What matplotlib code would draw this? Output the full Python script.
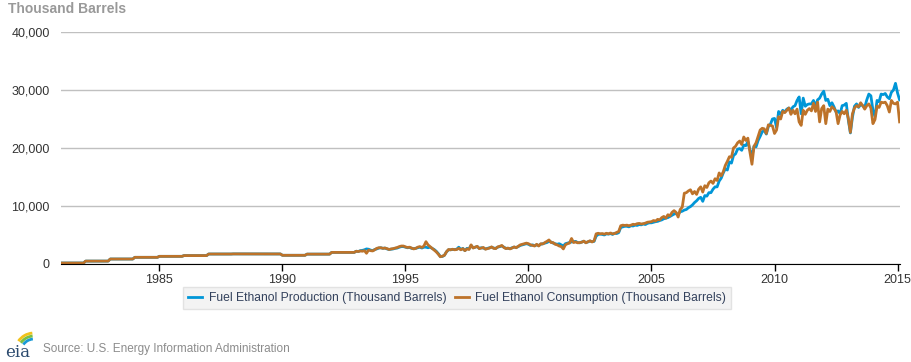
import matplotlib
matplotlib.use("Agg")
import matplotlib.pyplot as plt
from matplotlib.patches import Arc
import numpy as np

plt.rcParams['font.family'] = ['Liberation Sans', 'DejaVu Sans']

# annual levels 1981-1992 (reported flat for every month of the year)
annual_years = list(range(1981, 1993))
annual_level = [170, 500, 860, 1150, 1320, 1450, 1720, 1740, 1730, 1500, 1700, 2000]

# monthly values from Jan 1993 to Feb 2015, thousand barrels
prod_monthly = [
    2200, 2150, 2300, 2350, 2450, 2600, 2550, 2400, 2300, 2500, 2600, 2750,  # 1993
    2800, 2700, 2750, 2600, 2500, 2550, 2600, 2700, 2750, 2900, 3000, 3000,  # 1994
    2900, 2800, 2850, 2700, 2650, 2700, 2800, 2900, 2750, 2900, 2900, 2800,  # 1995
    2900, 2700, 2500, 2200, 1800, 1300, 1300, 1500, 2100, 2450, 2450, 2500,  # 1996
    2500, 2550, 2900, 2500, 2700, 2300, 2700, 2600, 3200, 2800, 2900, 3000,  # 1997
    2700, 2800, 2750, 2600, 2700, 2800, 2900, 2750, 2700, 2900, 3000, 3100,  # 1998
    2900, 2700, 2700, 2650, 2800, 2900, 2850, 3000, 3200, 3300, 3400, 3500,  # 1999
    3400, 3200, 3300, 3150, 3300, 3200, 3400, 3500, 3600, 3700, 3900, 3800,  # 2000
    3600, 3500, 3400, 3500, 3300, 3100, 3500, 3600, 3700, 3800, 3850, 3900,  # 2001
    3700, 3650, 3800, 3900, 3700, 3800, 3950, 3850, 3900, 4800, 5100, 5150,  # 2002
    5100, 5000, 5200, 5150, 5250, 5100, 5300, 5250, 5400, 6300, 6400, 6500,  # 2003
    6500, 6400, 6600, 6550, 6700, 6650, 6800, 6750, 6900, 6800, 7000, 7100,  # 2004
    7100, 7200, 7300, 7350, 7500, 7600, 7800, 7900, 8000, 8200, 8400, 8600,  # 2005
    8700, 8600, 9000, 9100, 9300, 9400, 9700, 9900, 10200, 10600, 10900, 11300,  # 2006
    11500, 10800, 11800, 11700, 12300, 12300, 12900, 13300, 13300, 14300, 14800, 15700,  # 2007
    16400, 16200, 17600, 17400, 18700, 19000, 19800, 19900, 19600, 20500, 20400, 21100,  # 2008
    19700, 18600, 20300, 20200, 21300, 22000, 22800, 23000, 22400, 23700, 24100, 25000,  # 2009
    25100, 23500, 26300, 25800, 26500, 26200, 26700, 26900, 26500, 27100, 27300, 28200,  # 2010
    28800, 25900, 28600, 27200, 27500, 27600, 27600, 28200, 27200, 28300, 28600, 29300,  # 2011
    29800, 28200, 28400, 27300, 27800, 27100, 26200, 26400, 25900, 27300, 27400, 27700,  # 2012
    24800, 22600, 25300, 27200, 27600, 27000, 27500, 27300, 27000, 28300, 29300, 29000,  # 2013
    26500, 25400, 28200, 28000, 29300, 29200, 29400, 28800, 28500, 29600, 30000, 31150,  # 2014
    29500, 28300,  # 2015
]
cons_monthly = [
    2200, 2150, 2250, 2200, 2300, 1850, 2400, 2300, 2250, 2450, 2700, 2800,  # 1993
    2800, 2700, 2750, 2650, 2500, 2600, 2650, 2750, 2850, 3000, 3100, 3100,  # 1994
    2950, 2850, 2900, 2750, 2600, 2700, 2900, 3000, 2850, 3100, 3850, 3300,  # 1995
    3000, 2700, 2400, 2100, 1700, 1250, 1350, 1500, 2100, 2500, 2450, 2550,  # 1996
    2450, 2500, 2700, 2450, 2650, 2300, 2600, 2500, 3300, 2750, 2900, 3050,  # 1997
    2650, 2750, 2850, 2550, 2650, 2750, 2950, 2700, 2650, 2950, 3050, 3200,  # 1998
    2850, 2650, 2750, 2600, 2750, 2950, 2800, 3050, 3300, 3400, 3500, 3600,  # 1999
    3500, 3300, 3200, 3100, 3400, 3100, 3500, 3450, 3700, 3900, 4150, 3700,  # 2000
    3700, 3400, 3300, 3100, 3000, 2600, 3300, 3500, 3600, 4400, 3700, 3800,  # 2001
    3650, 3700, 3750, 3950, 3650, 3850, 4000, 3800, 4000, 5200, 5300, 5200,  # 2002
    5250, 5150, 5300, 5200, 5350, 5200, 5250, 5450, 5600, 6600, 6700, 6650,  # 2003
    6700, 6600, 6700, 6850, 6800, 6950, 7000, 6900, 6950, 7050, 7200, 7250,  # 2004
    7300, 7500, 7400, 7700, 7600, 8000, 8200, 7900, 8500, 8300, 8900, 9200,  # 2005
    8900, 8100, 9400, 9800, 12200, 12300, 12600, 12800, 12100, 12500, 12000, 12900,  # 2006
    13300, 12400, 13500, 13200, 14000, 14300, 13900, 14700, 14400, 15700, 15200, 15900,  # 2007
    17000, 17700, 18500, 18400, 20000, 20300, 20900, 21200, 20600, 21900, 21300, 21700,  # 2008
    19300, 17200, 20300, 20900, 22000, 23100, 23400, 23300, 22500, 24000, 23900, 23800,  # 2009
    22500, 23100, 25400, 25000, 26300, 26100, 26500, 26900, 25800, 26500, 25900, 26700,  # 2010
    24500, 23900, 26500, 25800, 26500, 26800, 26400, 27700, 26300, 27900, 24500, 26800,  # 2011
    27300, 24200, 26700, 26300, 27100, 26800, 26300, 24200, 25700, 26300, 25900, 26500,  # 2012
    25100, 22700, 25900, 26900, 27300, 27100, 27800, 27300, 26700, 27300, 27600, 26900,  # 2013
    24200, 24900, 27200, 27000, 27900, 27800, 27900, 27300, 26200, 28200, 27700, 27600,  # 2014
    27900, 24500,  # 2015
]

series_labels = ["Fuel Ethanol Production (Thousand Barrels)",
                 "Fuel Ethanol Consumption (Thousand Barrels)"]
series_colors = ["#0096d7", "#bd732a"]
x_ticks = [1985, 1990, 1995, 2000, 2005, 2010, 2015]
y_ticks = [0, 10000, 20000, 30000, 40000]

# build monthly time axis
early = np.repeat(annual_level, 12).astype(float)
early_t = np.arange(len(early)) / 12 + annual_years[0]
late_t = np.arange(len(prod_monthly)) / 12 + 1993
t = np.concatenate([early_t, late_t])
prod = np.concatenate([early, prod_monthly])
cons = np.concatenate([early, cons_monthly])

fig = plt.figure(figsize=(9.12, 3.62), dpi=100)
ax = fig.add_axes([61 / 912, 98 / 362, 839 / 912, 232 / 362])

ax.plot(t, prod, color=series_colors[0], lw=2, label=series_labels[0])
ax.plot(t, cons, color=series_colors[1], lw=2, label=series_labels[1])

ax.set_xlim(1981, 2015.1)
ax.set_ylim(0, 40000)
ax.set_xticks(x_ticks)
ax.set_yticks(y_ticks)
ax.set_yticklabels([f"{v:,}" for v in y_ticks])
ax.grid(axis='y', color='#c0c0c0', lw=1)
ax.set_axisbelow(True)
for s in ['top', 'right', 'left']:
    ax.spines[s].set_visible(False)
ax.spines['bottom'].set_color('#000000')
ax.tick_params(axis='y', length=0, pad=8, labelsize=9, labelcolor='#333333')
ax.tick_params(axis='x', length=5, width=1, color='#000000', pad=2,
               labelsize=9, labelcolor='#333333')

fig.text(8 / 912, 1 - 9 / 362, "Thousand Barrels", fontsize=10, fontweight='bold',
         color='#999999', va='center', ha='left')

leg = fig.legend(loc='center', bbox_to_anchor=(457 / 912, 1 - 298 / 362), ncol=2,
                 fontsize=8.7, frameon=True, fancybox=False, handlelength=1.2,
                 handletextpad=0.5, columnspacing=0.7, borderpad=0.45)
leg.get_frame().set_facecolor('#f0f0f0')
leg.get_frame().set_edgecolor('#dddddd')
for txt in leg.get_texts():
    txt.set_color('#33415c')

fig.text(43 / 912, 1 - 349 / 362, "Source: U.S. Energy Information Administration",
         fontsize=8.5, color='#8c8c8c', va='center', ha='left')

# small eia logo
lax = fig.add_axes([2 / 912, 2 / 362, 36 / 912, 30 / 362])
lax.set_xlim(0, 36)
lax.set_ylim(0, 30)
lax.axis('off')
lax.text(3, 3, "eia", family='DejaVu Serif', fontsize=12, color='#2b4a6e',
         va='baseline', ha='left')
for r, c in [(19, '#f2c21b'), (16, '#7bbf44'), (13, '#1a9ad6')]:
    lax.add_patch(Arc((32, 8), 2 * r, 2 * r, theta1=95, theta2=145, color=c, lw=2))

fig.savefig("out.png", dpi=100)
